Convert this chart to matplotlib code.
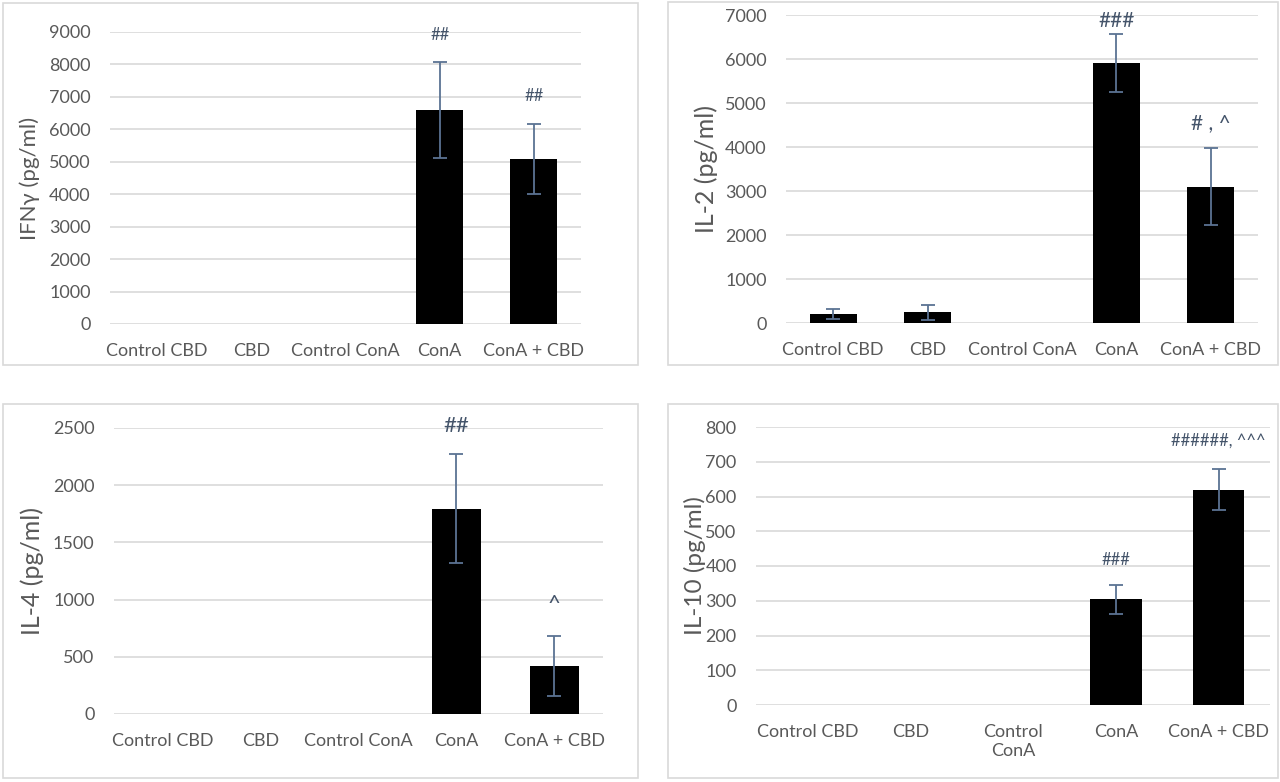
import matplotlib.pyplot as plt
from matplotlib.patches import Rectangle
import numpy as np

plt.rcParams['font.family'] = ['Lato', 'DejaVu Sans']

groups = ["Control CBD", "CBD", "Control ConA", "ConA", "ConA + CBD"]
groups_wrap = ["Control CBD", "CBD", "Control\nConA", "ConA", "ConA + CBD"]

ifng = [0, 0, 0, 6590, 5080]
ifng_err = [0, 0, 0, 1485, 1075]
ifng_marks = ["", "", "", "##", "##"]
ifng_mark_y = [0, 0, 0, 8920, 7020]

il2 = [200, 240, 10, 5910, 3095]
il2_err = [120, 170, 0, 655, 875]
il2_marks = ["", "", "", "###", "# , ^"]
il2_mark_y = [0, 0, 0, 6860, 4550]

il4 = [0, 0, 0, 1795, 420]
il4_err = [0, 0, 0, 478, 262]
il4_marks = ["", "", "", "##", "^"]
il4_mark_y = [0, 0, 0, 2515, 960]

il10 = [0, 0, 0, 304, 620]
il10_err = [0, 0, 0, 42, 60]
il10_marks = ["", "", "", "###", "######, ^^^"]
il10_mark_y = [0, 0, 0, 418, 762]

W, H = 1280, 782
fig = plt.figure(figsize=(W / 100, H / 100), dpi=100)
TXT = '#595959'
GRID = '#d9d9d9'
ERR = '#5b7393'

# panel frames (pixels: x0, y0, x1, y1)
for x0, y0, x1, y1 in [(3, 3, 638, 365), (668, 2, 1278, 365),
                       (3, 404, 638, 778), (668, 404, 1278, 778)]:
    fig.patches.append(Rectangle((x0 / W, 1 - y1 / H), (x1 - x0) / W, (y1 - y0) / H,
                                 transform=fig.transFigure, fill=False,
                                 edgecolor=GRID, lw=1.2))


def panel(px, vals, errs, marks, mark_y, ymax, step, ylabel, labels,
          mark_fs, ylab_x, ylab_fs):
    left, right, y0, ytop = px
    ax = fig.add_axes([left / W, 1 - y0 / H, (right - left) / W, (y0 - ytop) / H])
    x = np.arange(len(labels))
    ax.bar(x, vals, width=0.5, color='black', zorder=3)
    for xi, v, e in zip(x, vals, errs):
        if e > 0:
            ax.errorbar(xi, v, yerr=e, color=ERR, capsize=5, capthick=1.3,
                        elinewidth=1.3, zorder=4)
    for xi, m, my in zip(x, marks, mark_y):
        if m:
            ax.text(xi, my, m, ha='center', va='center', fontsize=mark_fs,
                    color='#44546a')
    ax.set_xlim(-0.5, len(labels) - 0.5)
    ax.set_ylim(0, ymax)
    ax.set_yticks(np.arange(0, ymax + 1, step))
    ax.set_xticks(x)
    ax.set_xticklabels(labels)
    ax.grid(axis='y', color=GRID, lw=1.2, zorder=0)
    for s in ax.spines.values():
        s.set_visible(False)
    ax.tick_params(length=0, labelsize=13, labelcolor=TXT, pad=14)
    ax.set_ylabel(ylabel, fontsize=ylab_fs, color=TXT)
    ax.yaxis.set_label_coords((ylab_x - left) / (right - left), 0.5)
    return ax


panel((110, 581, 324, 32), ifng, ifng_err, ifng_marks, ifng_mark_y,
      9000, 1000, "IFNγ (pg/ml)", groups, 12, 40, 16)
panel((786, 1258, 323, 15), il2, il2_err, il2_marks, il2_mark_y,
      7000, 1000, "IL-2 (pg/ml)", groups, 15, 718, 18)
panel((114, 603, 714, 428), il4, il4_err, il4_marks, il4_mark_y,
      2500, 500, "IL-4 (pg/ml)", groups, 16, 44, 18)
panel((756, 1270, 705, 427), il10, il10_err, il10_marks, il10_mark_y,
      800, 100, "IL-10 (pg/ml)", groups_wrap, 12, 706, 17.5)

fig.savefig("out.png", dpi=100, facecolor='white')
